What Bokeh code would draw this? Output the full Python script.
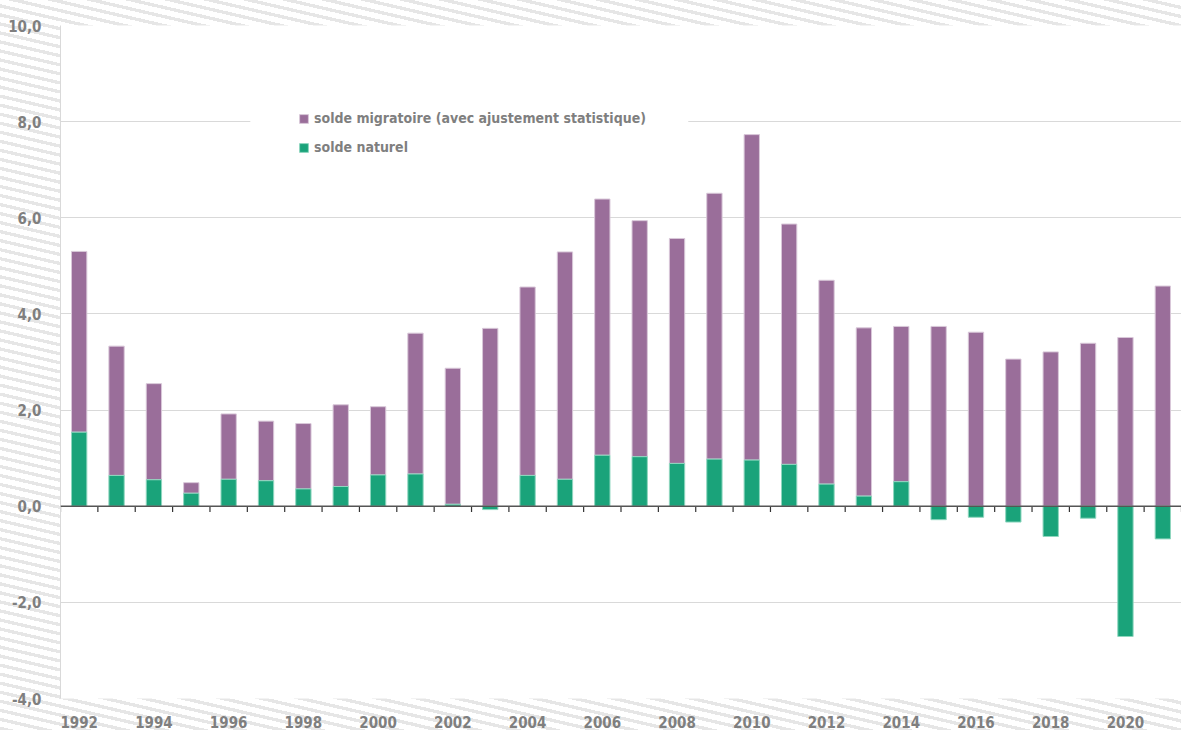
import numpy as np
from bokeh.plotting import figure
from bokeh.models import (ColumnDataSource, FixedTicker, Span, BoxAnnotation,
                          Legend, LegendItem, Range1d)
from bokeh.embed import file_html
from bokeh.resources import INLINE

# ---- data -----------------------------------------------------------
years = list(range(1992, 2022))
solde_naturel = [1.54, 0.64, 0.55, 0.27, 0.56, 0.53, 0.36, 0.41, 0.65, 0.67,
                 0.04, -0.07, 0.64, 0.56, 1.06, 1.03, 0.89, 0.98, 0.96, 0.87,
                 0.46, 0.21, 0.51, -0.28, -0.23, -0.33, -0.63, -0.25, -2.71, -0.68]
solde_migratoire = [3.76, 2.69, 2.00, 0.22, 1.36, 1.24, 1.36, 1.70, 1.42, 2.93,
                    2.83, 3.70, 3.92, 4.73, 5.33, 4.91, 4.68, 5.53, 6.77, 5.00,
                    4.24, 3.50, 3.23, 3.74, 3.62, 3.06, 3.21, 3.39, 3.51, 4.58]
x_tick_years = list(range(1992, 2021, 2))
y_ticks = [-4, -2, 0, 2, 4, 6, 8, 10]
y_tick_labels = ["-4,0", "-2,0", "0,0", "2,0", "4,0", "6,0", "8,0", "10,0"]
legend_labels = ["solde migratoire (avec ajustement statistique)", "solde naturel"]

PURPLE = "#9a6e9a"
GREEN = "#1aa37a"
TEXT = "#7f7f7f"
FONT = "'Liberation Sans Narrow', 'DejaVu Sans Condensed', 'Roboto Condensed', Roboto"

nat = np.array(solde_naturel)
mig = np.array(solde_migratoire)
mig_bottom = np.maximum(nat, 0)
src = ColumnDataSource(dict(x=years, nat=nat, zero=np.zeros_like(nat),
                            mb=mig_bottom, mt=mig_bottom + mig))

p = figure(width=1181, height=730, output_backend="svg", toolbar_location=None,
           x_range=Range1d(years[0] - 0.5, years[-1] + 0.5),
           y_range=Range1d(-4, 10),
           min_border_left=60, min_border_right=0, min_border_top=25,
           min_border_bottom=32)
p.border_fill_color = None
p.background_fill_color = "white"
p.outline_line_color = None
p.styles = {"background": "repeating-linear-gradient(13deg, #e6e6e6 0px, #e6e6e6 3.3px, #ffffff 3.3px, #ffffff 8.8px)"}

# grid
p.xgrid.visible = False
p.ygrid.ticker = FixedTicker(ticks=y_ticks)
p.ygrid.grid_line_color = "#d9d9d9"
p.ygrid.grid_line_width = 1

# y axis
p.yaxis.ticker = FixedTicker(ticks=y_ticks)
p.yaxis.major_label_overrides = {t: l for t, l in zip(y_ticks, y_tick_labels)}
p.yaxis.axis_line_color = "#d9d9d9"
p.yaxis.major_tick_line_color = None
p.yaxis.minor_tick_line_color = None
p.yaxis.major_label_standoff = 13
p.yaxis.major_label_text_font = FONT
p.yaxis.major_label_text_font_style = "bold"
p.yaxis.major_label_text_font_size = "15px"
p.yaxis.major_label_text_color = TEXT

# x axis
p.xaxis.ticker = FixedTicker(ticks=x_tick_years)
p.xaxis.major_label_overrides = {y: str(y) for y in x_tick_years}
p.xaxis.axis_line_color = None
p.xaxis.major_tick_line_color = None
p.xaxis.minor_tick_line_color = None
p.xaxis.major_label_standoff = 11
p.xaxis.major_label_text_font = FONT
p.xaxis.major_label_text_font_style = "bold"
p.xaxis.major_label_text_font_size = "15px"
p.xaxis.major_label_text_color = TEXT

# white box behind legend (interrupts the 8,0 gridline)
p.add_layout(BoxAnnotation(left=1996.58, right=2008.30, bottom=7.7, top=8.3,
                           fill_color="white", fill_alpha=1, line_color=None))

# bars
r_mig = p.vbar(x="x", bottom="mb", top="mt", width=0.41, source=src,
               fill_color=PURPLE, line_color="#d9c8d9", line_width=1)
r_nat = p.vbar(x="x", bottom="zero", top="nat", width=0.41, source=src,
               fill_color=GREEN, line_color="#8fd6bf", line_width=1)

# zero line with ticks between categories
p.add_layout(Span(location=0, dimension="width", line_color="#555555", line_width=1.5))
bounds = [y - 0.5 for y in years] + [years[-1] + 0.5]
p.segment(x0=bounds, x1=bounds, y0=[0] * len(bounds), y1=[-0.12] * len(bounds),
          line_color="#333333", line_width=1.2)

legend = Legend(items=[LegendItem(label=legend_labels[0], renderers=[r_mig]),
                       LegendItem(label=legend_labels[1], renderers=[r_nat])],
                location=(238, 541), orientation="vertical",
                margin=0, padding=0, spacing=9,
                glyph_width=11, glyph_height=11, label_height=20,
                label_standoff=5,
                background_fill_alpha=0, border_line_color=None,
                label_text_font=FONT, label_text_font_style="bold",
                label_text_font_size="14px", label_text_color=TEXT)
p.add_layout(legend, "center")

open("out.html", "w").write(file_html(p, INLINE))
